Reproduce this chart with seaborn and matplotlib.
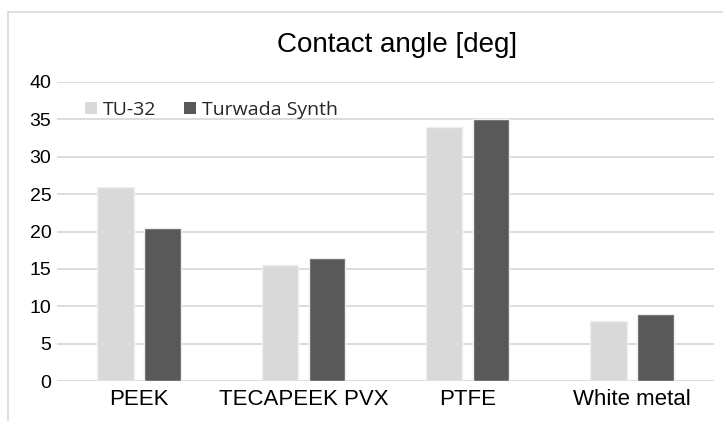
import matplotlib
matplotlib.use("Agg")
import matplotlib.pyplot as plt
from matplotlib.lines import Line2D
import seaborn as sns
import pandas as pd

# values
materials = ["PEEK", "TECAPEEK PVX", "PTFE", "White metal"]
oils = ["TU-32", "Turwada Synth"]
tu32_angle = [26.0, 15.5, 34.0, 8.0]
turwada_angle = [20.5, 16.5, 35.0, 8.9]
y_ticks = [0, 5, 10, 15, 20, 25, 30, 35, 40]

bar_colors = ["#d9d9d9", "#595959"]
grid_color = "#d9d9d9"

df = pd.DataFrame({
    "material": materials * 2,
    "oil": [oils[0]] * len(materials) + [oils[1]] * len(materials),
    "angle": tu32_angle + turwada_angle,
})

sns.set_theme(style="white")
plt.rcParams["font.family"] = ["Liberation Sans", "DejaVu Sans"]

fig = plt.figure(figsize=(7.23, 4.21), dpi=100)
ax = fig.add_axes([57 / 723, 1 - 381 / 421, 657 / 723, 299 / 421])

sns.barplot(
    data=df, x="material", y="angle", hue="oil",
    order=materials, hue_order=oils,
    palette=bar_colors, width=0.57, gap=0.22,
    edgecolor="#efefef", linewidth=1.0,
    errorbar=None, legend=False, ax=ax, zorder=3,
)

ax.set_ylim(0, 40)
ax.set_xlim(-0.5, len(materials) - 0.5)
ax.set_yticks(y_ticks)
ax.yaxis.grid(True, color=grid_color, linewidth=1.3, zorder=0)
ax.set_axisbelow(True)
for side in ["top", "right", "left", "bottom"]:
    ax.spines[side].set_visible(False)
ax.tick_params(axis="y", length=0, pad=4, labelsize=14, labelcolor="#000000")
ax.tick_params(axis="x", length=0, pad=6, labelsize=16, labelcolor="#000000")
ax.set_xlabel("")
ax.set_ylabel("")

fig.text(397.5 / 723, 1 - 45 / 421, "Contact angle [deg]",
         ha="center", va="center", fontsize=20, color="#000000")

handles = [plt.Rectangle((0, 0), 1, 1, facecolor=c, edgecolor="none") for c in bar_colors]
ax.legend(
    handles, oils, ncol=2, frameon=False,
    loc="center left", bbox_to_anchor=(85 / 723, 1 - 110 / 421),
    bbox_transform=fig.transFigure, borderpad=0, borderaxespad=0,
    handlelength=0.62, handleheight=0.62, handletextpad=0.3,
    columnspacing=1.4, prop={"family": "Open Sans", "size": 14},
)

# outer chart frame (cut at the right and bottom like the source)
fig.add_artist(Line2D([8 / 723, 1], [1 - 12 / 421] * 2, transform=fig.transFigure,
                      color=grid_color, linewidth=1.2))
fig.add_artist(Line2D([8 / 723] * 2, [0, 1 - 12 / 421], transform=fig.transFigure,
                      color=grid_color, linewidth=1.2))

fig.savefig("out.png", dpi=100, facecolor="white")
